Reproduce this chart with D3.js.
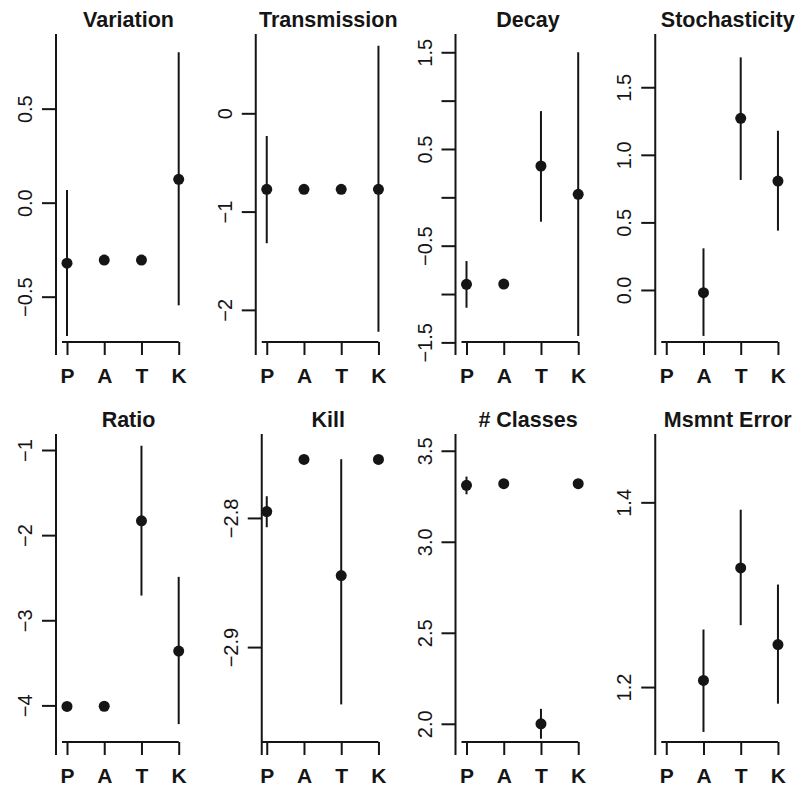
<!DOCTYPE html>
<html>
<head>
<meta charset="utf-8">
<script src="https://cdn.jsdelivr.net/npm/d3@7"></script>
<style>
  body { margin: 0; background: #fff; }
  svg { display: block; font-family: "Liberation Sans", Arial, Helvetica, sans-serif; }
</style>
</head>
<body>
<svg id="chart" width="799" height="788"></svg>
<script>
// 2x4 panels of point estimates with intervals, one per model parameter
const titles = ['Variation', 'Transmission', 'Decay', 'Stochasticity',
                'Ratio', 'Kill', '# Classes', 'Msmnt Error'];
const cats = ['P', 'A', 'T', 'K'];

// estimates (null = not fitted)
const means = [
  [-0.322, -0.305, -0.305, 0.124],
  [-0.773, -0.773, -0.773, -0.773],
  [-0.900, -0.897, 0.324, 0.031],
  [null, -0.020, 1.270, 0.806],
  [-4.012, -4.010, -1.832, -3.362],
  [-2.7951, -2.7547, -2.8446, -2.7547],
  [3.310, 3.319, 2.000, 3.319],
  [null, 1.2072, 1.329, 1.246],
];
// interval ends (null = no bar)
const lows = [
  [-0.709, null, null, -0.546],
  [-1.322, null, null, -2.222],
  [-1.142, null, -0.252, -1.434],
  [null, -0.340, 0.814, 0.439],
  [null, null, -2.710, -4.220],
  [-2.8072, null, -2.9444, null],
  [3.261, null, 1.918, null],
  [null, 1.1514, 1.267, 1.182],
];
const highs = [
  [0.068, null, null, 0.800],
  [-0.231, null, null, 0.688],
  [-0.659, null, 0.892, 1.500],
  [null, 0.308, 1.721, 1.178],
  [null, null, -0.950, -2.490],
  [-2.7832, null, -2.7545, null],
  [3.358, null, 2.082, null],
  [null, 1.2623, 1.392, 1.311],
];
// y limits of each panel
const yLims = [
  [-0.741, 0.897], [-2.327, 0.807], [-1.496, 1.689], [-0.385, 1.894],
  [-4.43, -0.812], [-2.9735, -2.735], [1.90, 3.592], [1.1405, 1.474],
];
const yTicks = [
  [-0.5, 0, 0.5], [-2, -1, 0], [-1.5, -1, -0.5, 0, 0.5, 1, 1.5], [0, 0.5, 1, 1.5],
  [-4, -3, -2, -1], [-2.9, -2.8], [2, 2.5, 3, 3.5], [1.2, 1.4],
];
const yTickLabels = [
  ['\u22120.5', '0.0', '0.5'], ['\u22122', '\u22121', '0'],
  ['\u22121.5', '', '\u22120.5', '', '0.5', '', '1.5'], ['0.0', '0.5', '1.0', '1.5'],
  ['\u22124', '\u22123', '\u22122', '\u22121'], ['\u22122.9', '\u22122.8'],
  ['2.0', '2.5', '3.0', '3.5'], ['1.2', '1.4'],
];

const svg = d3.select('#chart');
const ink = '#151515';
const colW = 799 / 4, rowH = 400;
const plotTop = 34, plotBottom = 342, plotLeft = 62;
const x = d3.scaleLinear().domain([1, 4]).range([67, 178.7]);

titles.forEach((title, i) => {
  const g = svg.append('g')
    .attr('transform', `translate(${(i % 4) * colW},${Math.floor(i / 4) * rowH})`);
  const y = d3.scaleLinear().domain(yLims[i]).range([plotBottom, plotTop]);
  const ax = title === 'Kill' ? plotLeft : plotLeft - 6;   // Kill's axis sits on the plot edge

  // title
  g.append('text').attr('x', 128.5).attr('y', 27.3)
    .attr('text-anchor', 'middle').attr('font-weight', 'bold')
    .attr('font-size', 21.5).attr('fill', ink).text(title);

  // y axis
  const yg = g.append('g').attr('transform', `translate(${ax},0)`)
    .call(d3.axisLeft(y).tickValues(yTicks[i]).tickSize(14)
      .tickFormat((d, k) => yTickLabels[i][k]));
  yg.select('.domain').remove();
  yg.selectAll('.tick line').attr('stroke', ink).attr('stroke-width', 2);
  yg.selectAll('.tick text')
    .attr('transform', 'rotate(-90)').attr('x', 0).attr('y', -24).attr('dy', null)
    .attr('text-anchor', 'middle').attr('font-size', 20).attr('fill', ink);
  yg.append('line').attr('x1', 0).attr('x2', 0).attr('y1', plotTop).attr('y2', 355)
    .attr('stroke', ink).attr('stroke-width', 2);

  // x axis
  const xg = g.append('g').attr('transform', `translate(0,${plotBottom})`)
    .call(d3.axisBottom(x).tickValues([1, 2, 3, 4]).tickSize(13).tickPadding(13)
      .tickFormat(d => cats[d - 1]));
  xg.select('.domain').remove();
  xg.selectAll('.tick line').attr('stroke', ink).attr('stroke-width', 2);
  xg.selectAll('.tick text').attr('font-size', 21).attr('font-weight', 'bold').attr('fill', ink);
  xg.append('line').attr('x1', plotLeft).attr('x2', x(4)).attr('y1', 0).attr('y2', 0)
    .attr('stroke', ink).attr('stroke-width', 2);

  // intervals
  const rows = cats.map((c, k) => ({ k: k + 1, m: means[i][k], lo: lows[i][k], hi: highs[i][k] }));
  g.selectAll('.bar').data(rows.filter(r => r.lo !== null)).join('line')
    .attr('x1', r => x(r.k)).attr('x2', r => x(r.k))
    .attr('y1', r => y(r.lo)).attr('y2', r => y(r.hi))
    .attr('stroke', ink).attr('stroke-width', 2);
  // estimates
  g.selectAll('.pt').data(rows.filter(r => r.m !== null)).join('circle')
    .attr('cx', r => x(r.k)).attr('cy', r => y(r.m)).attr('r', 5.5).attr('fill', ink);
});
</script>
</body>
</html>
